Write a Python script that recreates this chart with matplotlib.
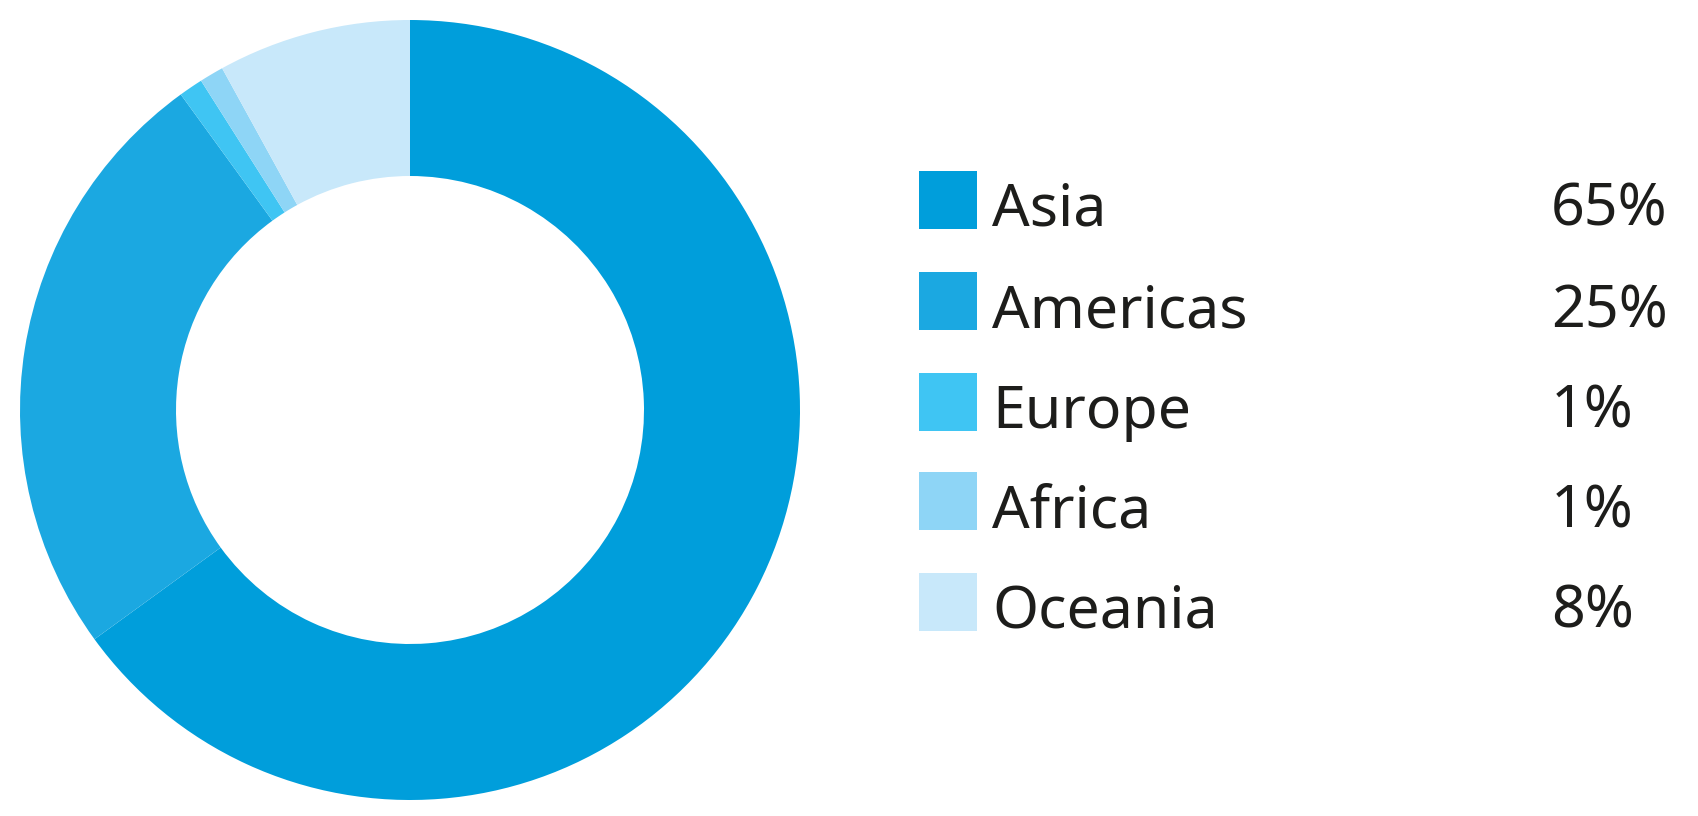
import matplotlib
matplotlib.use("Agg")
import matplotlib.pyplot as plt
from matplotlib.patches import Rectangle

regions = ["Asia", "Americas", "Europe", "Africa", "Oceania"]
shares = [65, 25, 1, 1, 8]
pct_labels = ["65%", "25%", "1%", "1%", "8%"]
colors = ["#009EDB", "#1BA8E1", "#3FC5F3", "#8ED5F6", "#C8E8FA"]

W, H = 1698, 816
fig = plt.figure(figsize=(W / 100, H / 100), dpi=100)
fig.patch.set_facecolor("white")
family = ["Noto Sans", "DejaVu Sans"]

# donut: centre (410, 410) px, outer radius 390 px
cx, cy, R = 410, 410, 390
half = 408
ax = fig.add_axes([(cx - half) / W, (H - cy - half) / H, 2 * half / W, 2 * half / H])
ax.pie(shares, colors=colors, startangle=90, counterclock=False,
       radius=1.0, wedgeprops=dict(width=0.40, edgecolor="none", linewidth=0))
lim = half / R
ax.set_xlim(-lim, lim)
ax.set_ylim(-lim, lim)
ax.set_aspect("equal")
ax.axis("off")

# legend
row_centres = [200, 301, 402, 501, 602]
sq = 58
sq_left = 919
for name, pct, col, yc in zip(regions, pct_labels, colors, row_centres):
    fig.patches.append(Rectangle((sq_left / W, (H - yc - sq / 2) / H), sq / W, sq / H,
                                 transform=fig.transFigure, facecolor=col,
                                 edgecolor="none"))
    base = H - (yc + 26)
    fig.text(992 / W, base / H, name, fontsize=42.5, family=family,
             color="#1d1d1b", va="baseline", ha="left")
    fig.text(1551 / W, base / H, pct, fontsize=42.5, family=family,
             color="#1d1d1b", va="baseline", ha="left")

fig.savefig("out.png", dpi=100, facecolor="white")
